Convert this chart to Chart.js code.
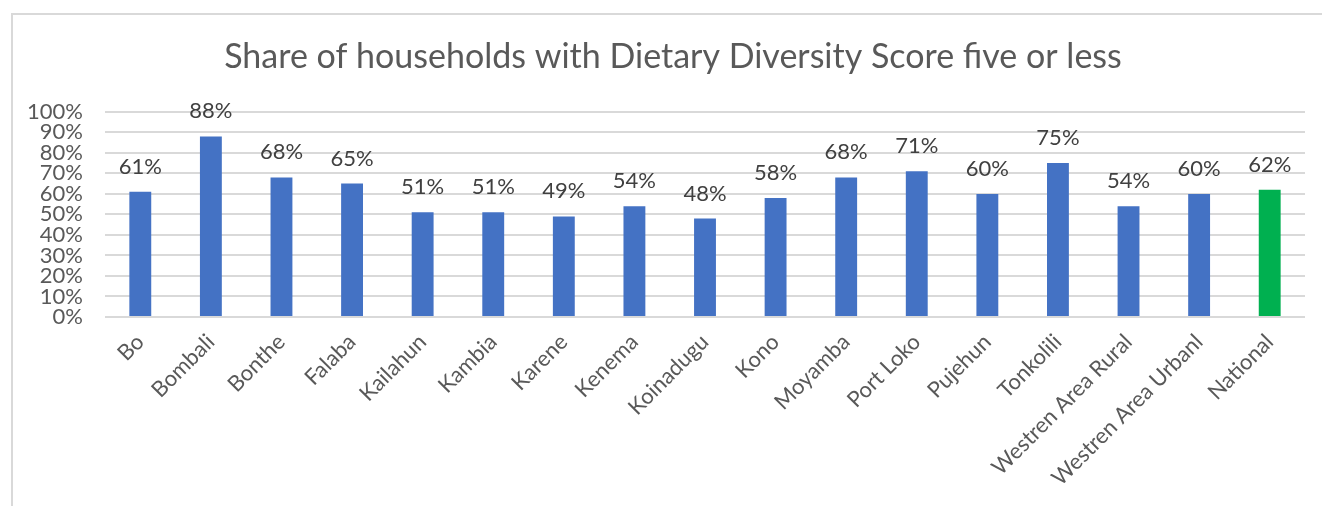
<!DOCTYPE html>
<html>
<head>
<meta charset="utf-8">
<script src="https://cdn.jsdelivr.net/npm/chart.js@4/dist/chart.umd.min.js"></script>
<style>
html,body{margin:0;padding:0;background:#fff;overflow:hidden;}
canvas{display:block;}
</style>
</head>
<body>
<canvas id="c" width="1322" height="506"></canvas>
<script>
const categories = ["Bo","Bombali","Bonthe","Falaba","Kailahun","Kambia","Karene","Kenema","Koinadugu","Kono","Moyamba","Port Loko","Pujehun","Tonkolili","Westren Area Rural","Westren Area Urbanl","National"];
const shares = [61, 88, 68, 65, 51, 51, 49, 54, 48, 58, 68, 71, 60, 75, 54, 60, 62];
const barColors = ["#4472C4","#4472C4","#4472C4","#4472C4","#4472C4","#4472C4","#4472C4","#4472C4","#4472C4","#4472C4","#4472C4","#4472C4","#4472C4","#4472C4","#4472C4","#4472C4","#00B050"];
const yTicks = [0,10,20,30,40,50,60,70,80,90,100];
const titleText = "Share of households with Dietary Diversity Score five or less";

const FONT = "Lato, 'Open Sans', sans-serif";

const frame = {
  id: 'frame',
  beforeDraw(chart){
    const ctx = chart.ctx;
    ctx.save();
    ctx.fillStyle = '#fff';
    ctx.fillRect(0,0,chart.width,chart.height);
    ctx.strokeStyle = '#d9d9d9';
    ctx.lineWidth = 2;
    ctx.beginPath();
    ctx.moveTo(12, chart.height);
    ctx.lineTo(12, 14);
    ctx.lineTo(chart.width, 14);
    ctx.stroke();
    ctx.restore();
  },
  afterDraw(chart){
    const ctx = chart.ctx;
    ctx.save();
    ctx.font = "34px " + FONT;
    ctx.fillStyle = '#595959';
    ctx.textAlign = 'center';
    ctx.textBaseline = 'alphabetic';
    ctx.fillText(titleText, 673, 68);
    ctx.restore();
  }
};

const valueLabels = {
  id: 'valueLabels',
  afterDatasetsDraw(chart){
    const ctx = chart.ctx;
    const meta = chart.getDatasetMeta(0);
    ctx.save();
    ctx.font = "22px " + FONT;
    ctx.fillStyle = '#404040';
    ctx.textAlign = 'center';
    ctx.textBaseline = 'alphabetic';
    meta.data.forEach((bar, i) => {
      ctx.fillText(shares[i] + '%', bar.x, bar.y - 18);
    });
    ctx.restore();
  }
};

new Chart(document.getElementById('c'), {
  type: 'bar',
  data: {
    labels: categories,
    datasets: [{
      data: shares,
      backgroundColor: barColors,
      barPercentage: 0.31,
      categoryPercentage: 1
    }]
  },
  options: {
    responsive: false,
    devicePixelRatio: 1,
    animation: false,
    layout: { padding: { left: 14, right: 17, top: 0, bottom: 0 } },
    plugins: {
      legend: { display: false },
      tooltip: { enabled: false },
      title: {
        display: true,
        text: titleText,
        color: 'rgba(0,0,0,0)',
        font: { family: FONT, size: 34, weight: 'normal' },
        padding: { top: 38, bottom: 33 }
      }
    },
    scales: {
      x: {
        grid: { display: false, drawTicks: false },
        border: { display: false },
        ticks: {
          color: '#595959',
          font: { family: FONT, size: 22 },
          maxRotation: 45,
          minRotation: 45,
          padding: 12,
          autoSkip: false
        },
        afterFit(scale){ scale.height = 189; }
      },
      y: {
        min: 0,
        max: 100,
        afterBuildTicks(scale){ scale.ticks = yTicks.map(v => ({ value: v })); },
        grid: { color: '#d9d9d9', lineWidth: 2, drawTicks: false },
        border: { display: false },
        ticks: {
          color: '#595959',
          font: { family: FONT, size: 22 },
          padding: 22,
          autoSkip: false,
          callback: v => v + '%'
        },
        afterFit(scale){ scale.width = 91; }
      }
    }
  },
  plugins: [frame, valueLabels]
});
</script>
</body>
</html>
